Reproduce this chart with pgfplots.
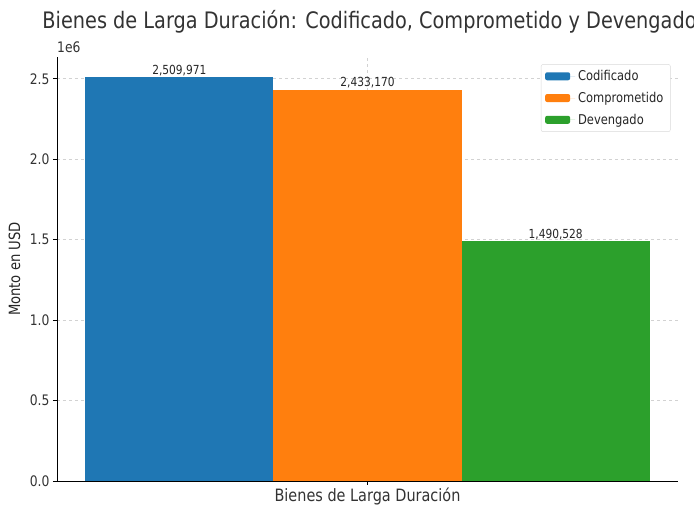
\documentclass[border=0pt]{standalone}
\usepackage{pgfplots}
\pgfplotsset{compat=1.18}
\usetikzlibrary{calc}
\usepackage{fontspec}
\setmainfont{DejaVu Sans}[FakeStretch=0.85]
\definecolor{c1}{HTML}{1F77B4}
\definecolor{c2}{HTML}{FF7F0E}
\definecolor{c3}{HTML}{2CA02C}
\begin{document}
\begin{tikzpicture}
\begin{axis}[
  scale only axis,
  width=621pt, height=424pt,
  xmin=-0.33, xmax=0.33,
  ymin=0, ymax=2635470,
  axis x line*=bottom, axis y line*=left,
  axis line style={black, line width=0.9pt},
  xtick={0}, xticklabels={Bienes de Larga Duración},
  ytick={0,500000,1000000,1500000,2000000,2500000},
  yticklabels={0.0,0.5,1.0,1.5,2.0,2.5},
  scaled y ticks=false,
  tick align=outside,
  major tick length=4pt,
  tick style={black, line width=0.8pt},
  ticklabel style={font=\fontsize{14.5}{16}\selectfont, text=black!80},
  xticklabel style={font=\fontsize{17}{19}\selectfont, yshift=1pt},
  grid=major,
  major grid style={dashed, gray!35, line width=0.6pt},
  ylabel={Monto en USD},
  every axis y label/.style={at={(rel axis cs:0,0.5)}, rotate=90, anchor=south, yshift=33pt,
    font=\fontsize{15.5}{18}\selectfont, text=black!85},
  legend style={at={(0.988,0.983)}, anchor=north east, font=\fontsize{13.5}{16}\selectfont,
    draw=gray!30, rounded corners=2pt, row sep=6pt, inner sep=4pt, text=black!85},
  legend image code/.code={\fill[#1] (0pt,-4pt) rectangle (25pt,4pt); \path (0pt,0pt) -- (30pt,0pt);},
  legend cell align=left,
  legend style={nodes={inner xsep=3pt}, inner ysep=4pt},
  nodes near coords, point meta=explicit symbolic,
  every node near coord/.append style={font=\fontsize{12.5}{14}\selectfont, text=black!85, yshift=-2pt},
  clip=false,
]
\addplot[ybar, bar width=0.2, bar shift=0pt, fill=c1, draw=none] coordinates {(-0.2,2509971) [2,509,971]};
\addlegendentry{Codificado}
\addplot[ybar, bar width=0.2, bar shift=0pt, fill=c2, draw=none] coordinates {(0,2433170) [2,433,170]};
\addlegendentry{Comprometido}
\addplot[ybar, bar width=0.2, bar shift=0pt, fill=c3, draw=none] coordinates {(0.2,1490528) [1,490,528]};
\addlegendentry{Devengado}
\node[anchor=south west, font=\fontsize{14.5}{16}\selectfont, text=black!80, inner sep=0pt] at (rel axis cs:0,1) [yshift=4pt] {1e6};
\node[overlay, anchor=base, font=\fontsize{22.7}{26}\selectfont, text=black!80, inner sep=0pt] at (rel axis cs:0.5,1) [xshift=2pt, yshift=28pt] {Bienes de Larga Duración: Codificado, Comprometido y Devengado};
\coordinate (sw) at (rel axis cs:0,0);
\end{axis}
\path[use as bounding box] ($(sw)+(-57pt,-20pt)$) rectangle ++(694pt,501pt);
\end{tikzpicture}
\end{document}
